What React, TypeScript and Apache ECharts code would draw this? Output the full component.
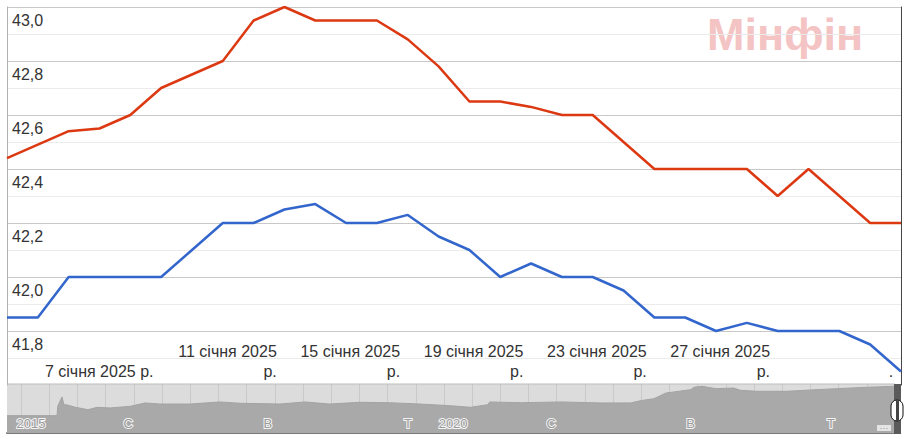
import React, { useEffect, useRef } from 'react';
import * as echarts from 'echarts';

// Daily categories (4 Jan 2025 – 2 Feb 2025)
const dates = [
  '4 січня', '5 січня', '6 січня', '7 січня', '8 січня', '9 січня', '10 січня',
  '11 січня', '12 січня', '13 січня', '14 січня', '15 січня', '16 січня', '17 січня',
  '18 січня', '19 січня', '20 січня', '21 січня', '22 січня', '23 січня', '24 січня',
  '25 січня', '26 січня', '27 січня', '28 січня', '29 січня', '30 січня', '31 січня',
  '1 лютого', '2 лютого',
];
const year = '2025';
const sellRates = [
  42.44, 42.49, 42.54, 42.55, 42.6, 42.7, 42.75, 42.8, 42.95, 43.0,
  42.95, 42.95, 42.95, 42.88, 42.78, 42.65, 42.65, 42.63, 42.6, 42.6,
  42.5, 42.4, 42.4, 42.4, 42.4, 42.3, 42.4, 42.3, 42.2, 42.2,
];
const buyRates = [
  41.85, 41.85, 42.0, 42.0, 42.0, 42.0, 42.1, 42.2, 42.2, 42.25,
  42.27, 42.2, 42.2, 42.23, 42.15, 42.1, 42.0, 42.05, 42.0, 42.0,
  41.95, 41.85, 41.85, 41.8, 41.83, 41.8, 41.8, 41.8, 41.75, 41.65,
];
const xLabelIndexes = [3, 7, 11, 15, 19, 23];

// Overview navigator (months since Aug 2014)
const navMonths = [
  0, 7.1, 7.2, 7.8, 8.1, 8.4, 9.7, 11.5, 12.8, 14.6, 17.5, 19.6, 21.7, 26.0, 30.2, 33.1,
  38.7, 42.3, 45.8, 50.1, 54.3, 58.6, 62.8, 65.8, 68.2, 68.5, 72.9, 78.6, 84.3, 88.5,
  89.9, 91.8, 93.5, 97.0, 97.5, 98.6, 100.6, 103.1, 104.1, 106.4, 110.6, 114.0, 117.7,
  122.0, 126.0,
];
const navValues = [
  15.9, 15.9, 24.5, 33.1, 25.7, 26.0, 23.6, 21.4, 23.6, 23.0, 24.5, 27.6, 26.6, 26.6, 28.5, 27.3,
  26.6, 28.5, 26.6, 28.2, 27.8, 26.6, 25.1, 23.6, 26.0, 28.5, 27.8, 28.5, 27.6, 27.6,
  29.7, 31.5, 36.7, 39.8, 42.0, 42.9, 40.7, 41.3, 39.2, 38.3, 38.3, 39.5, 40.7,
  42.0, 42.9,
];
const navGridMonths = [
  2, 6, 10, 14, 18, 22, 26, 30, 34, 38, 42, 46, 50, 54, 58, 62, 66, 70, 74, 78,
  82, 86, 90, 94, 98, 102, 106, 110, 114, 118, 122,
];
const navLabelPos = [3.4, 17.2, 37.0, 56.9, 63.3, 77.2, 97.0, 116.9];
const navLabelText = ['2015', 'С', 'В', 'Т', '2020', 'С', 'В', 'Т'];

const FONT = 'Liberation Sans, Arial, sans-serif';

export default function App() {
  const ref = useRef<HTMLDivElement>(null);
  useEffect(() => {
    if (!ref.current) return;
    const chart = echarts.init(ref.current, undefined, { renderer: 'svg' });
    const option: any = {
      animation: false,
      backgroundColor: '#ffffff',
      textStyle: { fontFamily: FONT },
      grid: [
        { left: 7, right: 7, top: 7, height: 378, containLabel: false },
        {
          left: 7, right: 13, top: 384, height: 49, show: true,
          backgroundColor: '#dcdcdc', borderWidth: 0,
        },
      ],
      xAxis: [
        {
          type: 'category', gridIndex: 0, data: dates, boundaryGap: false,
          axisLine: { show: false }, axisTick: { show: false },
          splitLine: { show: false },
          axisLabel: {
            inside: true, margin: 4, width: 108, overflow: 'none',
            interval: (i: number) => xLabelIndexes.includes(i),
            formatter: (v: string, i: number) =>
              i === xLabelIndexes[0] ? `{r|${v} ${year} р.}` : `{r|${v} ${year}}\n{r|р.}`,
            rich: {
              r: {
                align: 'right', color: '#333', fontSize: 16, fontFamily: FONT, lineHeight: 20,
              },
            },
          },
        },
        {
          type: 'value', gridIndex: 1, min: 0, max: 126, z: 0,
          axisLine: { show: true, lineStyle: { color: '#7a7a7a', width: 2 } },
          axisTick: { show: false, customValues: navGridMonths },
          splitLine: { show: true, lineStyle: { color: '#c9c9c9', width: 1 } },
          axisLabel: { show: false },
        },
        {
          type: 'value', gridIndex: 1, min: 0, max: 126, z: 5, position: 'bottom',
          axisLine: { show: false },
          axisTick: { show: false },
          splitLine: { show: false },
          axisLabel: {
            inside: true, margin: 3, customValues: navLabelPos,
            color: '#9a9a9a', fontSize: 13, fontFamily: FONT,
            textBorderColor: '#f4f4f4', textBorderWidth: 2,
            formatter: (v: number) => {
              let best = 0;
              navLabelPos.forEach((p, i) => {
                if (Math.abs(p - v) < Math.abs(navLabelPos[best] - v)) best = i;
              });
              return navLabelText[best];
            },
          },
        },
      ],
      yAxis: [
        {
          type: 'value', gridIndex: 0, min: 41.6, max: 43, interval: 0.2,
          position: 'left',
          axisLine: { show: true, lineStyle: { color: '#b0b0b0', width: 1 } },
          axisTick: { show: false },
          splitLine: { show: true, showMinLine: false, lineStyle: { color: '#c8c8c8', width: 1 } },
          minorTick: { show: false, splitNumber: 2 },
          minorSplitLine: { show: true, lineStyle: { color: '#ebebeb', width: 1 } },
          axisLabel: {
            inside: true, margin: 5, color: '#333', fontSize: 16, fontFamily: FONT,
            verticalAlign: 'top', lineHeight: 27, showMinLabel: false,
            formatter: (v: number) => (v < 41.7 ? '' : v.toFixed(1).replace('.', ',')),
          },
        },
        {
          type: 'value', gridIndex: 0, min: 41.6, max: 43, interval: 0.2,
          position: 'right',
          axisLine: { show: true, lineStyle: { color: '#444', width: 1 } },
          axisTick: { show: false }, axisLabel: { show: false }, splitLine: { show: false },
        },
        {
          type: 'value', gridIndex: 1, min: 0, max: 45, show: false,
          splitLine: { show: false },
        },
      ],
      graphic: [
        {
          type: 'text', left: 707, top: 12, z: 0, silent: true,
          style: {
            text: 'Мінфін', fill: '#f4c3c3', font: `bold 45px ${FONT}`,
          },
        },
        {
          type: 'line', z: 10, silent: true,
          shape: { x1: 7, y1: 384, x2: 895, y2: 384 },
          style: { stroke: '#bdbdbd', lineWidth: 1 },
        },
        {
          type: 'rect', z: 10, silent: true,
          shape: { x: 894, y: 384, width: 7, height: 50 },
          style: { fill: '#5a5a5a' },
        },
        {
          type: 'rect', z: 11, silent: true,
          shape: { x: 891, y: 400, width: 12, height: 21, r: 6 },
          style: { fill: '#ffffff', stroke: '#111', lineWidth: 1 },
        },
        {
          type: 'rect', z: 12, silent: true,
          shape: { x: 896, y: 400, width: 3, height: 21 },
          style: { fill: '#444' },
        },
        {
          type: 'rect', z: 10, silent: true,
          shape: { x: 877, y: 425, width: 14, height: 6 },
          style: { fill: '#e4e4e4' },
        },
        {
          type: 'text', z: 11, silent: true, x: 884, y: 428,
          style: { text: '···', fill: '#999', font: `9px ${FONT}`, align: 'center', verticalAlign: 'middle' },
        },
        {
          type: 'text', z: 11, silent: true, x: 891, y: 371,
          style: { text: '.', fill: '#333', font: `16px ${FONT}`, align: 'center', verticalAlign: 'middle' },
        },
      ],
      series: [
        {
          name: 'Продаж', type: 'line', xAxisIndex: 0, yAxisIndex: 0, data: sellRates,
          symbol: 'none', lineStyle: { color: '#dc3912', width: 2.5 }, z: 5,
        },
        {
          name: 'Купівля', type: 'line', xAxisIndex: 0, yAxisIndex: 0, data: buyRates,
          symbol: 'none', lineStyle: { color: '#3366cc', width: 2.5 }, z: 5,
        },
        {
          name: 'Огляд', type: 'line', xAxisIndex: 1, yAxisIndex: 2,
          data: navMonths.map((m, i) => [m, navValues[i]]),
          symbol: 'none', lineStyle: { color: '#a3a3a3', width: 1 },
          areaStyle: { color: '#a9a9a9', opacity: 1 }, z: 2,
        },
      ],
    };
    chart.setOption(option);
    return () => chart.dispose();
  }, []);
  return (
    <div
      ref={ref}
      style={{ position: 'fixed', left: 0, top: 0, width: 908, height: 439, background: '#fff' }}
    />
  );
}
